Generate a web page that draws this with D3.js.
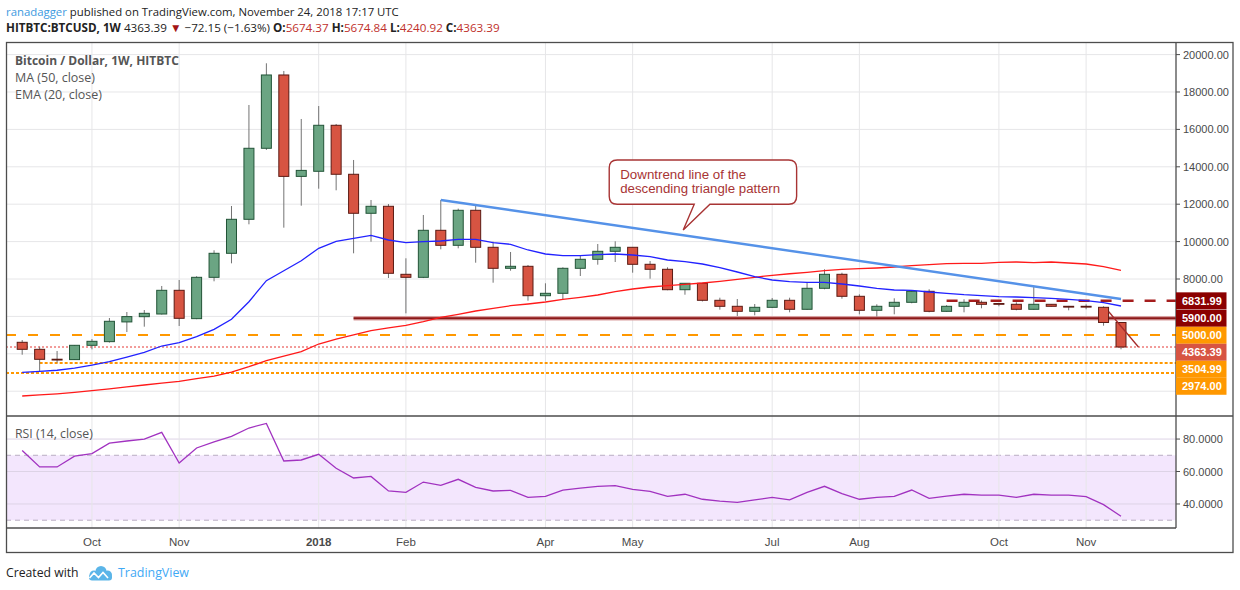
<!DOCTYPE html>
<html><head><meta charset="utf-8">
<script src="https://cdn.jsdelivr.net/npm/d3@7"></script>
<style>body{margin:0;background:#fff;} svg{display:block;}</style>
</head><body>
<svg id="c" width="1240" height="590"></svg>
<script>
// ---------------- DATA ----------------
const weeks = ["2017-09-04","2017-09-11","2017-09-18","2017-09-25","2017-10-02","2017-10-09","2017-10-16","2017-10-23","2017-10-30","2017-11-06",
"2017-11-13","2017-11-20","2017-11-27","2017-12-04","2017-12-11","2017-12-18","2017-12-25","2018-01-01","2018-01-08","2018-01-15",
"2018-01-22","2018-01-29","2018-02-05","2018-02-12","2018-02-19","2018-02-26","2018-03-05","2018-03-12","2018-03-19","2018-03-26",
"2018-04-02","2018-04-09","2018-04-16","2018-04-23","2018-04-30","2018-05-07","2018-05-14","2018-05-21","2018-05-28","2018-06-04",
"2018-06-11","2018-06-18","2018-06-25","2018-07-02","2018-07-09","2018-07-16","2018-07-23","2018-07-30","2018-08-06","2018-08-13",
"2018-08-20","2018-08-27","2018-09-03","2018-09-10","2018-09-17","2018-09-24","2018-10-01","2018-10-08","2018-10-15","2018-10-22",
"2018-10-29","2018-11-05","2018-11-12","2018-11-19"];
const open  = [4615,4240,3710,3690,4454,4650,5705,5985,6128,7395, 5880,8090,9374,11192,14990,18910,13487,13760,16220,13600,
11514,11888,8251,8090,10604,9802,11674,9695,8572,8679, 7107,7235,8572,9053,9481,9695,8786,8519,7428,7770,
6861,6540,6272,6486,6861,6380,7503,8251,7075,6326, 6540,6754,7342,6272,6540,6754,6690,6647,6380,6647, 6540,6540,6486,5674.37];
const high  = [4738,4380,4150,4470,4790,5914,6235,6342,7626,7947, 8150,9535,11904,17305,19535,19124,16556,17250,16290,14364,
12225,12010,9107,11423,12225,11763,11958,9995,9444,8750, 7770,8625,9267,9872,10016,9700,8963,8625,7780,7790,
7000,6930,6663,6984,7000,7824,8519,8337,7182,6647, 6968,7400,7450,6600,6915,6850,6720,6754,7610,6660, 6560,6647,6540,5674.84];
const low   = [3952,3043,3525,3680,4240,4600,5165,5450,6100,5487, 5850,7877,8838,10925,14900,10744,11920,12830,12743,9374,
9995,8054,6165,8050,9588,9641,8872,7802,8444,6840, 6840,6930,8160,8765,8909,8337,8016,7400,7160,6800,
6360,6021,6058,6450,6219,6350,7450,6947,6112,5990, 6112,6700,6219,6250,6219,6433,6540,6326,6350,6520, 6326,6380,5503,4240.92];
const close = [4240,3705,3690,4454,4668,5738,5989,6165,7395,5898, 8090,9374,11192,14990,18910,13487,13808,16220,13600,11514,
11888,8305,8090,10604,9802,11674,9695,8572,8679,7107, 7235,8572,9053,9481,9695,8786,8519,7428,7770,6861,
6540,6272,6486,6861,6380,7503,8251,7075,6326,6540, 6754,7342,6272,6540,6754,6647,6660,6380,6647,6540, 6510,6500,5674.37,4363.39];
const ema20 = [3010,3060,3120,3230,3400,3578,3820,4080,4417,4594, 4915,5310,5845,6786,7909,8444,8979,9642,10016,10177,
10337,10086,9941,9995,10032,10123,10123,9941,9856,9551, 9337,9246,9246,9300,9337,9283,9193,9016,8925,8802,
8604,8374,8123,7947,7856,7824,7824,7733,7626,7503, 7412,7396,7305,7235,7160,7107,7053,7037,7000,6968, 6914,6840,6733,6556];
const ma50  = [1743,1800,1860,1940,2027,2130,2230,2331,2430,2529, 2670,2812,3026,3310,3631,3870,4113,4524,4791,5010,
5235,5390,5522,5717,5952,6112,6289,6433,6572,6663, 6770,6914,7021,7144,7321,7465,7572,7642,7717,7786,
7877,7984,8091,8198,8280,8358,8444,8519,8551,8588, 8642,8711,8765,8818,8840,8840,8893,8909,8872,8909, 8856,8802,8658,8465];
const rsi   = [73.0,62.8,62.8,69.5,71.0,77.5,78.8,80.0,84.1,65.2, 74.5,78.2,81.6,86.8,89.6,66.5,67.1,70.6,62.0,56.0,
57.0,48.0,47.2,53.5,51.5,55.2,50.2,48.0,48.4,44.1, 44.7,48.6,49.8,50.9,51.3,49.0,47.8,44.7,46.0,42.9,
41.7,41.0,42.5,44.1,42.5,47.2,50.9,46.4,42.9,44.1, 44.7,48.6,43.5,44.9,46.0,45.4,45.4,44.1,46.0,45.4, 45.4,44.5,39.6,32.4];

const priceTicks = [2000,4000,6000,8000,10000,12000,14000,16000,18000,20000];
const priceTickLabels = ["","","","8000.00","10000.00","12000.00","14000.00","16000.00","18000.00","20000.00"];
const rsiTicks = [40,60,80];
const rsiBand = [70,30];
const monthTickDates  = ["2017-10-02","2017-11-06","2018-01-01","2018-02-05","2018-04-02","2018-05-07","2018-07-02","2018-08-06","2018-10-01","2018-11-05"];
const monthTickLabels = ["Oct","Nov","2018","Feb","Apr","May","Jul","Aug","Oct","Nov"];

const levelValues = [6831.99, 5900, 5000, 4363.39, 3504.99, 2974];
const levelStart  = ["2018-09-10","2018-01-15",null,null,"2017-09-11",null];
const levelKinds  = ["resDash","support","orangeDash","last","orangeDot","orangeDot"];

const trendDates  = ["2018-02-19","2018-11-19"];
const trendValues = [12225, 6930];
const breakIdx    = [62.3, 64.0];
const breakValues = [6250, 4363.39];

const calloutAnchor = {idx: 37.9, value: 10620};
const calloutLines  = ["Downtrend line of the", "descending triangle pattern"];

// ---------------- LAYOUT ----------------
const L = 6, R = 1176, FR = 1233, PT = 43, PB = 416, RB = 528, FB = 553;
const svg = d3.select("#c");
svg.append("rect").attr("width",1240).attr("height",590).attr("fill","#fff");

const x = d3.scaleLinear().domain([0, weeks.length-1]).range([22.2, 1121]);
const y = d3.scaleLinear().domain([674, 20620]).range([PB, PT]);
const yr = d3.scaleLinear().domain([25.2, 94.2]).range([RB, PB]);
const idx = d => weeks.indexOf(d);

function fit(sel, w){
  const n = sel.node(); const len = n.getComputedTextLength();
  const fs = parseFloat(sel.attr("font-size")); if (len>0) sel.attr("font-size", fs*w/len);
}

const defs = svg.append("defs");
defs.append("clipPath").attr("id","pc").append("rect").attr("x",L).attr("y",PT).attr("width",R-L).attr("height",PB-PT);
defs.append("clipPath").attr("id","rc").append("rect").attr("x",L).attr("y",PB).attr("width",R-L).attr("height",RB-PB);

const gridC = "#e6e6e8";
const band = svg.append("g");
band.append("rect").attr("x",L).attr("width",R-L).attr("y",yr(rsiBand[0])).attr("height",yr(rsiBand[1])-yr(rsiBand[0])).attr("fill","#f3e6fd");

const grid = svg.append("g");
priceTicks.forEach(v => grid.append("line").attr("x1",L).attr("x2",R).attr("y1",y(v)).attr("y2",y(v)).attr("stroke",gridC));
rsiTicks.forEach(v => grid.append("line").attr("x1",L).attr("x2",R).attr("y1",yr(v)).attr("y2",yr(v)).attr("stroke","#ddd3e6"));
monthTickDates.forEach(d => grid.append("line").attr("x1",x(idx(d))).attr("x2",x(idx(d))).attr("y1",PT).attr("y2",RB).attr("stroke",gridC));
rsiBand.forEach(v => band.append("line").attr("x1",L).attr("x2",R).attr("y1",yr(v)).attr("y2",yr(v))
  .attr("stroke","#b9adc2").attr("stroke-dasharray","5 4"));

const pg = svg.append("g").attr("clip-path","url(#pc)");

const levelStyle = {
  resDash:   {stroke:"#a51d1d", w:2.5, dash:"11 11"},
  support:   {stroke:"#8b1818", w:2.2, dash:null, halo:true},
  orangeDash:{stroke:"#ff9800", w:2, dash:"10 12"},
  last:      {stroke:"#e53935", w:1, dash:"2 2"},
  orangeDot: {stroke:"#ff9800", w:2, dash:"3 2"}
};
levelValues.forEach((v,i) => {
  const st = levelStyle[levelKinds[i]];
  const x1 = levelStart[i] ? x(idx(levelStart[i])) : L;
  if (st.halo) pg.append("line").attr("x1",x1).attr("x2",R).attr("y1",y(v)).attr("y2",y(v)).attr("stroke","#d9a0a0").attr("stroke-width",4.5);
  const ln = pg.append("line").attr("x1",x1).attr("x2",R).attr("y1",y(v)).attr("y2",y(v))
    .attr("stroke",st.stroke).attr("stroke-width",st.w);
  if (st.dash) ln.attr("stroke-dasharray",st.dash);
});

const cw = 10;
weeks.forEach((d,i) => {
  const up = close[i] >= open[i];
  const cx = x(i);
  pg.append("line").attr("x1",cx).attr("x2",cx).attr("y1",y(high[i])).attr("y2",y(low[i])).attr("stroke","#737373").attr("stroke-width",1);
  const yt = y(Math.max(open[i],close[i])), yb = y(Math.min(open[i],close[i]));
  pg.append("rect").attr("x",cx-cw/2).attr("width",cw).attr("y",yt).attr("height",Math.max(0.8,yb-yt))
    .attr("fill", up ? "#6ba583" : "#d75442").attr("stroke", up ? "#225437" : "#5b1a13").attr("stroke-width",1);
});

const lineGen = arr => d3.line().x((v,i)=>x(i)).y(v=>y(v))(arr);
pg.append("path").attr("d",lineGen(ma50)).attr("fill","none").attr("stroke","#ff1a1a").attr("stroke-width",1.3);
pg.append("path").attr("d",lineGen(ema20)).attr("fill","none").attr("stroke","#2222ff").attr("stroke-width",1.3);

pg.append("line").attr("x1",x(idx(trendDates[0]))).attr("y1",y(trendValues[0]))
  .attr("x2",x(idx(trendDates[1]))).attr("y2",y(trendValues[1]))
  .attr("stroke","#5592e8").attr("stroke-width",2.4);
pg.append("line").attr("x1",x(breakIdx[0])).attr("y1",y(breakValues[0]))
  .attr("x2",x(breakIdx[1])).attr("y2",y(breakValues[1]))
  .attr("stroke","#a52a2a").attr("stroke-width",1.3);

// callout
(function(){
  const tx = x(calloutAnchor.idx), ty = y(calloutAnchor.value);
  const l = tx-74, r = tx+113.4, t = ty-70, b = ty-25.7, rr = 8;
  const bl = tx+11, br = tx+26.7;
  const p = `M${l+rr},${t} H${r-rr} Q${r},${t} ${r},${t+rr} V${b-rr} Q${r},${b} ${r-rr},${b} H${br} L${tx},${ty} L${bl},${b} H${l+rr} Q${l},${b} ${l},${b-rr} V${t+rr} Q${l},${t} ${l+rr},${t} Z`;
  svg.append("path").attr("d",p).attr("fill","#fff").attr("stroke","#a83434").attr("stroke-width",1.4);
  calloutLines.forEach((s,k) => {
    const tt = svg.append("text").attr("x",l+11).attr("y",t+18.5+k*14.2).attr("font-family","Liberation Sans, Arial, sans-serif")
      .attr("font-size",12).attr("fill","#a83434").text(s);
    fit(tt, k===1 ? 160 : 126);
  });
})();

svg.append("g").attr("clip-path","url(#rc)").append("path")
  .attr("d", d3.line().x((v,i)=>x(i)).y(v=>yr(v))(rsi))
  .attr("fill","none").attr("stroke","#a132c0").attr("stroke-width",1.3);

const frameC = "#4d4d4d";
svg.append("rect").attr("x",L+0.5).attr("y",PT-0.5).attr("width",FR-L-0.5).attr("height",FB-PT).attr("fill","none").attr("stroke",frameC).attr("stroke-width",1.3);
svg.append("line").attr("x1",L).attr("x2",FR).attr("y1",PB).attr("y2",PB).attr("stroke",frameC).attr("stroke-width",1.3);
svg.append("line").attr("x1",R).attr("x2",R).attr("y1",PT).attr("y2",RB).attr("stroke",frameC).attr("stroke-width",1.3);
svg.append("line").attr("x1",L).attr("x2",R).attr("y1",RB).attr("y2",RB).attr("stroke",frameC).attr("stroke-width",1.3);

const axF = "Liberation Sans, Arial, sans-serif";
priceTicks.forEach((v,k) => {
  svg.append("line").attr("x1",R).attr("x2",R+4).attr("y1",y(v)).attr("y2",y(v)).attr("stroke",frameC);
  if (priceTickLabels[k]) svg.append("text").attr("x",R+7).attr("y",y(v)+4).attr("font-family",axF).attr("font-size",11).attr("fill","#4a4a4a").text(priceTickLabels[k]);
});
rsiTicks.forEach(v => {
  svg.append("line").attr("x1",R).attr("x2",R+4).attr("y1",yr(v)).attr("y2",yr(v)).attr("stroke",frameC);
  svg.append("text").attr("x",R+7).attr("y",yr(v)+4).attr("font-family",axF).attr("font-size",11).attr("fill","#4a4a4a").text(d3.format(".4f")(v));
});

const labelFill = {resDash:"#8b0000", support:"#8b0000", orangeDash:"#ff9800", last:"#d75442", orangeDot:"#ff9800"};
let prevC = -1e9;
levelValues.forEach((v,i) => {
  let c = Math.max(y(v), prevC + 17); prevC = c;
  svg.append("rect").attr("x",R).attr("y",c-8.5).attr("width",50.5).attr("height",17).attr("fill",labelFill[levelKinds[i]]);
  svg.append("text").attr("x",R+6).attr("y",c+4).attr("font-family",axF).attr("font-weight","bold").attr("font-size",11).attr("fill","#fff").text(d3.format(".2f")(v));
});

monthTickDates.forEach((d,k) => {
  svg.append("text").attr("x",x(idx(d))).attr("y",546).attr("text-anchor","middle").attr("font-family",axF)
    .attr("font-size",11.5).attr("font-weight", monthTickLabels[k]==="2018" ? "bold":"normal").attr("fill","#4a4a4a").text(monthTickLabels[k]);
});

const hF = "Open Sans, sans-serif";
const h1 = svg.append("text").attr("x",6).attr("y",16).attr("font-family",hF).attr("font-size",14);
h1.append("tspan").attr("fill","#3d9ae0").text("ranadagger");
h1.append("tspan").attr("fill","#222").text(" published on TradingView.com, November 24, 2018 17:17 UTC");
fit(h1, 393);
const h2 = svg.append("text").attr("x",6).attr("y",32).attr("font-family",hF).attr("font-size",14).attr("fill","#222");
h2.append("tspan").attr("font-weight","bold").text("HITBTC:BTCUSD, 1W");
h2.append("tspan").text(" 4363.39 ");
h2.append("tspan").attr("fill","#a31515").text("\u25BC");
h2.append("tspan").text(" \u221272.15 (\u22121.63%) ");
[["O:","5674.37"],["H:","5674.84"],["L:","4240.92"],["C:","4363.39"]].forEach((p,k) => {
  h2.append("tspan").attr("font-weight","bold").text((k?" ":"")+p[0]);
  h2.append("tspan").attr("fill","#c0302b").text(p[1]);
});
fit(h2, 494);

const lg = [["Bitcoin / Dollar, 1W, HITBTC",65,164,"bold"],["MA (50, close)",82,80,"normal"],["EMA (20, close)",99,87,"normal"]];
lg.forEach(a => {
  const t = svg.append("text").attr("x",15).attr("y",a[1]).attr("font-family",hF).attr("font-size",13).attr("font-weight",a[3]).attr("fill","#555").text(a[0]);
  fit(t,a[2]);
});
const rl = svg.append("text").attr("x",15).attr("y",438).attr("font-family",hF).attr("font-size",13).attr("fill","#555").text("RSI (14, close)");
fit(rl,78);

const f1 = svg.append("text").attr("x",6).attr("y",577).attr("font-family",hF).attr("font-size",14).attr("fill","#222").text("Created with");
fit(f1,72.7);
const logo = svg.append("g").attr("fill","#5bb5e8");
logo.append("circle").attr("cx",94).attr("cy",575).attr("r",4.5);
logo.append("circle").attr("cx",101).attr("cy",571.5).attr("r",5.5);
logo.append("circle").attr("cx",107.5).attr("cy",575).attr("r",4.5);
logo.append("rect").attr("x",89).attr("y",574).attr("width",23).attr("height",6.5).attr("rx",3);
logo.append("polyline").attr("points","89.5,578 94,573 98.5,577.5 103,572.5 108,578").attr("fill","none").attr("stroke","#fff").attr("stroke-width",1.6);
const f2 = svg.append("text").attr("x",118).attr("y",577).attr("font-family",hF).attr("font-size",14).attr("fill","#3fa9f5").text("TradingView");
fit(f2,71);
</script>
</body></html>
